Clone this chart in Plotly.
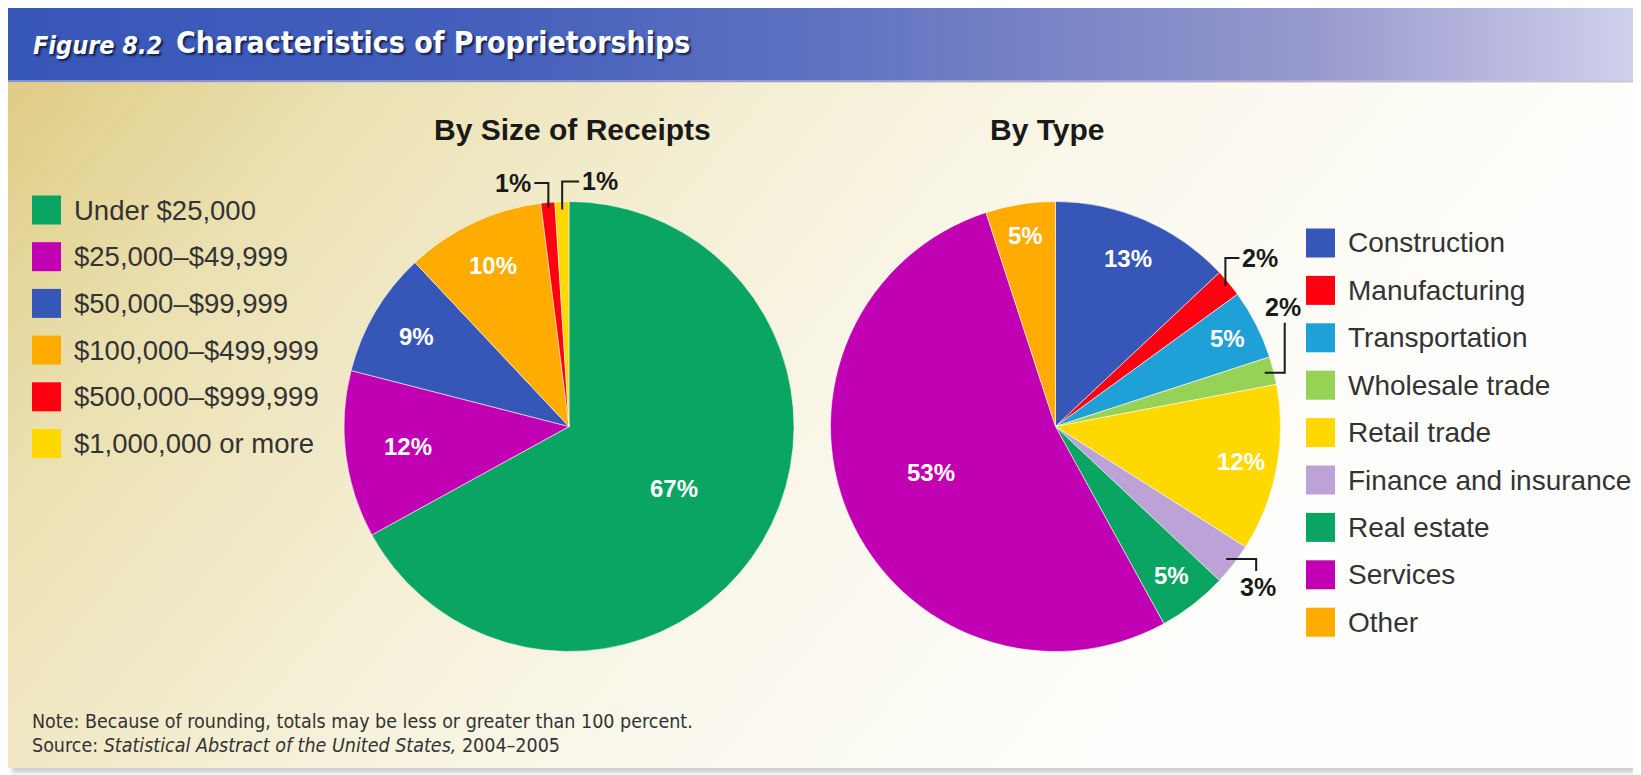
import base64
import math
import plotly.graph_objects as go

# page (screenshot) size and the default 8px body margin of the html page
PAGE_W, PAGE_H = 1641, 775
OFF = 8
FW, FH = PAGE_W - OFF, PAGE_H - OFF

# ---------------- data ----------------
receipt_labels = ["Under $25,000", "$25,000–$49,999", "$50,000–$99,999",
                  "$100,000–$499,999", "$500,000–$999,999", "$1,000,000 or more"]
receipt_values = [67, 12, 9, 10, 1, 1]
receipt_colors = ["#0aa562", "#c000b2", "#3656b8", "#ffab00", "#ff0010", "#ffd800"]

type_labels = ["Construction", "Manufacturing", "Transportation", "Wholesale trade",
               "Retail trade", "Finance and insurance", "Real estate", "Services", "Other"]
type_values = [13, 2, 5, 2, 12, 3, 5, 53, 5]
type_colors = ["#3656b8", "#ff0010", "#1fa0d6", "#95d255", "#ffd800",
               "#bca2d6", "#0aa562", "#c000b2", "#ffab00"]

title_fig = "Figure 8.2"
title_main = "Characteristics of Proprietorships"
subtitle_left = "By Size of Receipts"
subtitle_right = "By Type"
note_line = "Note: Because of rounding, totals may be less or greater than 100 percent."
source_line = "Source: <i>Statistical Abstract of the United States,</i> 2004–2005"

# ---------------- layout constants (page pixels) ----------------
R = 225.0
LEFT_C = (569.0, 426.5)
RIGHT_C = (1055.5, 426.5)

left_inside = {0: 0.54, 1: 0.72, 2: 0.79, 3: 0.79}
right_inside = {0: 0.815, 2: 0.86, 4: 0.84, 6: 0.84, 7: 0.59, 8: 0.86}
right_angle_shift = {7: 3.0}
left_outside = {4: (0.975, [(0, -25), (-14, 0)], "left"),
                5: (0.965, [(0, -28), (17, 0)], "right")}
right_outside = {1: (0.98, [(0, -28), (14, 0)], "right"),
                 3: (0.96, [(20, 0), (0, -50)], "up"),
                 5: (0.96, [(30, 0), (0, 12)], "down")}


def px2paper(x, y):
    return (x - OFF) / FW, 1 - (y - OFF) / FH


def mid_angles(values):
    tot = float(sum(values))
    out, cum = [], 0.0
    for v in values:
        out.append(360.0 * (cum + v / 2.0) / tot)
        cum += v
    return out


def polar(center, frac, ang):
    a = math.radians(ang)
    return center[0] + frac * R * math.sin(a), center[1] - frac * R * math.cos(a)


# ---------------- background svg (figure pixel coords) ----------------
svg = f'''<svg xmlns="http://www.w3.org/2000/svg" width="{FW}" height="{FH}" viewBox="0 0 {FW} {FH}" preserveAspectRatio="none">
<defs>
<linearGradient id="hd" x1="0" y1="0" x2="1" y2="0">
<stop offset="0" stop-color="#3656b8"/>
<stop offset="0.3" stop-color="#4460bb"/>
<stop offset="0.5" stop-color="#5e72c1"/>
<stop offset="0.65" stop-color="#7a85c6"/>
<stop offset="0.8" stop-color="#9699cc"/>
<stop offset="0.9" stop-color="#b3b3dc"/>
<stop offset="1" stop-color="#d0d1ec"/>
</linearGradient>
<linearGradient id="bd" gradientUnits="userSpaceOnUse" x1="0" y1="74" x2="992" y2="892">
<stop offset="0" stop-color="#dfcc84"/>
<stop offset="0.2" stop-color="#eae0b0"/>
<stop offset="0.45" stop-color="#f4eed2"/>
<stop offset="0.7" stop-color="#faf8ec"/>
<stop offset="1" stop-color="#fefefc"/>
</linearGradient>
<filter id="bl" x="-5%" y="-5%" width="110%" height="110%"><feGaussianBlur stdDeviation="2"/></filter>
</defs>
<rect x="0" y="0" width="{FW}" height="{FH}" fill="#ffffff"/>
<rect x="4" y="4" width="1627" height="761" fill="#cfcfcf" filter="url(#bl)"/>
<rect x="0" y="74" width="1626" height="686" fill="url(#bd)"/>
<rect x="0" y="0" width="1626" height="74" fill="url(#hd)"/>
<rect x="0" y="72" width="1626" height="3" fill="#c8c4d8" opacity="0.55"/>
</svg>'''
bg_src = "data:image/svg+xml;base64," + base64.b64encode(svg.encode()).decode()

fig = go.Figure()


def add_pie(labels, values, colors, center):
    x0, y0 = px2paper(center[0] - R, center[1] + R)
    x1, y1 = px2paper(center[0] + R, center[1] - R)
    fig.add_trace(go.Pie(
        labels=labels, values=values, sort=False, direction="clockwise", rotation=0,
        marker=dict(colors=colors, line=dict(color="rgba(255,255,255,0.55)", width=1)),
        textinfo="none", hoverinfo="label+percent", showlegend=False,
        domain=dict(x=[x0, x1], y=[y0, y1])))


add_pie(receipt_labels, receipt_values, receipt_colors, LEFT_C)
add_pie(type_labels, type_values, type_colors, RIGHT_C)

annotations = []
shapes = []

LABEL_FONT = "Liberation Sans, Arial, sans-serif"
COND = "DejaVu Sans Condensed, Liberation Sans Narrow, Arial Narrow, sans-serif"


def add_labels(values, center, inside, outside, shift=None):
    shift = shift or {}
    angs = mid_angles(values)
    tot = sum(values)
    for i, frac in inside.items():
        x, y = polar(center, frac, angs[i] + shift.get(i, 0.0))
        px, py = px2paper(x, y)
        annotations.append(dict(x=px, y=py, xref="paper", yref="paper", showarrow=False,
                                text=f"{round(100 * values[i] / tot)}%",
                                font=dict(family=LABEL_FONT, size=24, color="white", weight="bold"),
                                xanchor="center", yanchor="middle"))
    for i, (frac, moves, side) in outside.items():
        x, y = polar(center, frac, angs[i])
        q = px2paper(x, y)
        ppath = f"M {q[0]:.5f} {q[1]:.5f}"
        for dx, dy in moves:
            x += dx
            y += dy
            q = px2paper(x, y)
            ppath += f" L {q[0]:.5f} {q[1]:.5f}"
        shapes.append(dict(type="path", path=ppath, xref="paper", yref="paper",
                           line=dict(color="#1a1a1a", width=2)))
        if side == "left":
            tx, ty, xa, ya = x - 2, y, "right", "middle"
        elif side == "right":
            tx, ty, xa, ya = x + 2, y, "left", "middle"
        elif side == "up":
            tx, ty, xa, ya = x - 2, y - 1, "center", "bottom"
        else:
            tx, ty, xa, ya = x + 2, y + 1, "center", "top"
        qx, qy = px2paper(tx, ty)
        annotations.append(dict(x=qx, y=qy, xref="paper", yref="paper", showarrow=False,
                                text=f"{round(100 * values[i] / tot)}%",
                                font=dict(family=LABEL_FONT, size=25, color="#1a1a1a", weight="bold"),
                                xanchor=xa, yanchor=ya, borderpad=0))


add_labels(receipt_values, LEFT_C, left_inside, left_outside)
add_labels(type_values, RIGHT_C, right_inside, right_outside, right_angle_shift)


def add_legend(labels, colors, x_sq, y_first, step, fsize, size=29):
    for k, (lab, col) in enumerate(zip(labels, colors)):
        yc = y_first + k * step
        x0, y0 = px2paper(x_sq, yc + size / 2)
        x1, y1 = px2paper(x_sq + size, yc - size / 2)
        shapes.append(dict(type="rect", xref="paper", yref="paper", x0=x0, y0=y0, x1=x1, y1=y1,
                           fillcolor=col, line=dict(width=0)))
        tx, ty = px2paper(x_sq + size + 11, yc)
        annotations.append(dict(x=tx, y=ty, xref="paper", yref="paper", showarrow=False,
                                text=lab, xanchor="left", yanchor="middle",
                                font=dict(family=LABEL_FONT, size=fsize, color="#333333")))


add_legend(receipt_labels, receipt_colors, 32, 210, 46.7, 27.5)
add_legend(type_labels, type_colors, 1306, 243, 47.4, 28)

# titles
shadow = "2px 2px 2px rgba(10,20,60,0.85)"
x, y = px2paper(31, 45)
annotations.append(dict(x=x, y=y, xref="paper", yref="paper", showarrow=False, text=title_fig,
                        xanchor="left", yanchor="middle",
                        font=dict(family=COND, size=25, color="white", weight="bold",
                                  style="italic", shadow=shadow)))
x, y = px2paper(174, 43)
annotations.append(dict(x=x, y=y, xref="paper", yref="paper", showarrow=False, text=title_main,
                        xanchor="left", yanchor="middle",
                        font=dict(family=COND, size=30, color="white", weight="bold", shadow=shadow)))

for txt, cx in ((subtitle_left, 572), (subtitle_right, 1047)):
    x, y = px2paper(cx, 129)
    annotations.append(dict(x=x, y=y, xref="paper", yref="paper", showarrow=False, text=txt,
                            xanchor="center", yanchor="middle",
                            font=dict(family=LABEL_FONT, size=30, color="#1a1a1a", weight="bold")))

for txt, yc in ((note_line, 721), (source_line, 745)):
    x, y = px2paper(30, yc)
    annotations.append(dict(x=x, y=y, xref="paper", yref="paper", showarrow=False, text=txt,
                            xanchor="left", yanchor="middle",
                            font=dict(family=COND, size=19.5, color="#333333")))

fig.update_layout(
    width=FW, height=FH, margin=dict(l=0, r=0, t=0, b=0),
    paper_bgcolor="white", plot_bgcolor="white",
    images=[dict(source=bg_src, xref="paper", yref="paper", x=0, y=1, sizex=1, sizey=1,
                 xanchor="left", yanchor="top", sizing="stretch", layer="below")],
    annotations=annotations, shapes=shapes, showlegend=False,
)

fig.write_html("out.html")
